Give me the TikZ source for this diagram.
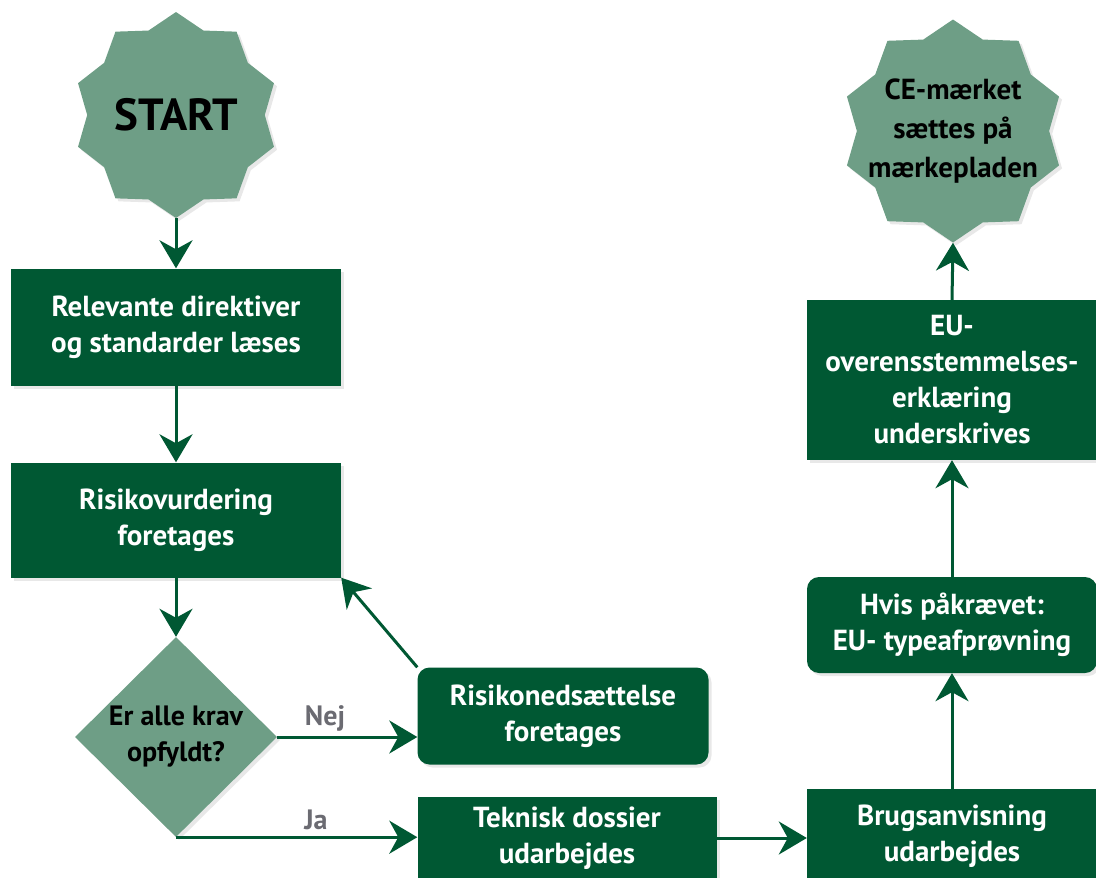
\documentclass[tikz,border=0pt]{standalone}
\usepackage{fontspec}
\setmainfont{PT Sans}
\usetikzlibrary{shapes.geometric,arrows.meta,shadows}
\definecolor{dkgreen}{RGB}{0,88,51}
\definecolor{ltgreen}{RGB}{110,158,134}
\definecolor{lblgray}{RGB}{107,107,114}
\begin{document}
\begin{tikzpicture}[x=1pt,y=-1pt,
  shade/.style={drop shadow={opacity=0.18,shadow xshift=3pt,shadow yshift=-3pt}},
  box/.style={fill=dkgreen,text=white,font=\bfseries\fontsize{29}{36}\selectfont,align=center,inner sep=0pt,shade},
  rbox/.style={box,rounded corners=12pt},
  burst/.style={star,star points=10,star point ratio=1.16,fill=ltgreen,inner sep=0pt,shade},
  txt/.style={font=\bfseries\fontsize{29}{39}\selectfont,align=center,text=black},
  arr/.style={draw=dkgreen,line width=3pt,-{Stealth[length=28pt,width=33pt,inset=9pt]}},
  lbl/.style={text=lblgray,font=\bfseries\fontsize{28}{28}\selectfont}]
\useasboundingbox (0,0) rectangle (1096,878);
\clip (0,0) rectangle (1096,878);

% left column
\node[burst,minimum size=206pt,label={[txt,font=\bfseries\fontsize{45}{45}\selectfont]center:START}] (start) at (176,115) {};
\node[box,minimum width=330pt,minimum height=117pt] (relevant) at (176,327) {Relevante direktiver\\og standarder læses};
\node[box,minimum width=330pt,minimum height=115pt] (risiko) at (176,520) {Risikovurdering\\foretages};
\node[diamond,fill=ltgreen,minimum width=202pt,minimum height=200pt,inner sep=0pt,shade,label={[txt,font=\bfseries\fontsize{28}{36}\selectfont]center:Er alle krav\\opfyldt?}] (krav) at (176,737) {};

% middle
\node[rbox,minimum width=291pt,minimum height=97pt] (nedsat) at (563,716) {Risikonedsættelse\\foretages};
\node[box,minimum width=299pt,minimum height=82pt] (dossier) at (567,838) {Teknisk dossier\\udarbejdes};
\node[lbl] (nej) at (325,718) {Nej};
\node[lbl] (ja) at (316,820) {Ja};

% right column
\node[box,minimum width=290pt,minimum height=94pt] (brugs) at (952,836) {Brugsanvisning\\udarbejdes};
\node[rbox,minimum width=290pt,minimum height=96pt] (typeaf) at (952,625) {Hvis påkrævet:\\EU- typeafprøvning};
\node[box,minimum width=290pt,minimum height=160pt] (erklaer) at (952,380) {EU-\\overensstemmelses-\\erklæring\\underskrives};
\node[burst,minimum size=223pt,label={[txt]center:CE-mærket\\sættes på\\mærkepladen}] (ce) at (953,131) {};

\draw[arr] (start.south) -- (relevant.north);
\draw[arr] (relevant.south) -- (risiko.north);
\draw[arr] (risiko.south) -- (krav.north);
\draw[arr] (krav.east) -- (krav.east -| nedsat.west);
\draw[arr] (krav.south) -- (krav.south -| dossier.west);
\draw[arr] (nedsat.north west) -- (risiko.south east);
\draw[arr] (dossier.east) -- (dossier.east -| brugs.west);
\draw[arr] (brugs.north) -- (typeaf.south);
\draw[arr] (typeaf.north) -- (erklaer.south);
\draw[arr] (erklaer.north) -- (ce.south);
\end{tikzpicture}
\end{document}
